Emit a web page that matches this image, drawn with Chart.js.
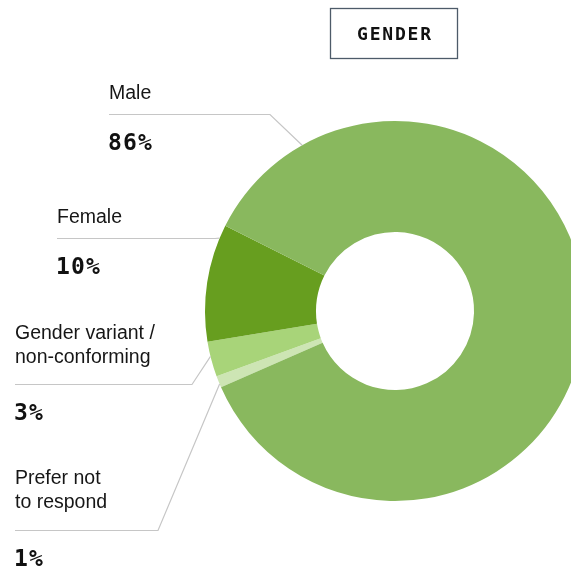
<!DOCTYPE html>
<html>
<head>
<meta charset="utf-8">
<title>Gender</title>
<script src="https://cdn.jsdelivr.net/npm/chart.js@4.4.1/dist/chart.umd.min.js"></script>
<style>
    html, body { margin: 0; padding: 0; background: #ffffff; overflow: hidden; }
    #wrap { position: relative; width: 600px; height: 570px; }
</style>
</head>
<body>
<div id="wrap"><canvas id="genderChart" width="600" height="570"></canvas></div>
<script>
// Datos de la encuesta
const categories = ['Male', 'Female', 'Gender variant / non-conforming', 'Prefer not to respond'];
const labelLines = [['Male'], ['Female'], ['Gender variant /', 'non-conforming'], ['Prefer not', 'to respond']];
const shares = [86, 10, 3, 1];
const sliceColors = ['#89b85e', '#679e1f', '#a8d479', '#cde5b4'];
const chartTitle = 'GENDER';

// Etiquetas laterales: x del texto, base del texto, y de la guía, codo, punto sobre el arco
const callouts = [
    { x: 109, textY: 99, lineY: 114, kneeX: 270, along: 0.11 },
    { x: 57, textY: 223, lineY: 238, kneeX: 215, along: 0.885 },
    { x: 15, textY: 363, lineY: 384, kneeX: 192, along: 0.58 },
    { x: 15, textY: 508, lineY: 530, kneeX: 158, along: 0.3 }
];

// El gráfico se dibuja en sentido horario desde "Prefer not to respond"
const order = [3, 2, 1, 0];

const calloutPlugin = {
    id: 'callouts',
    afterDraw(chart) {
        const ctx = chart.ctx;
        const meta = chart.getDatasetMeta(0);
        ctx.save();

        // Caja del título
        ctx.strokeStyle = '#4d5b69';
        ctx.lineWidth = 1.3;
        ctx.strokeRect(330.5, 8.5, 127, 50);
        ctx.fillStyle = '#111111';
        ctx.font = 'bold 18px "DejaVu Sans Mono"';
        ctx.letterSpacing = '1.8px';
        ctx.textAlign = 'left';
        ctx.textBaseline = 'alphabetic';
        const tw = ctx.measureText(chartTitle).width - 1.8;
        ctx.fillText(chartTitle, 394 - tw / 2, 40);

        categories.forEach(function(name, k) {
            const c = callouts[k];
            const arc = meta.data[order.indexOf(k)];
            const a = arc.startAngle + c.along * (arc.endAngle - arc.startAngle);
            const ex = arc.x + Math.cos(a) * arc.outerRadius;
            const ey = arc.y + Math.sin(a) * arc.outerRadius;

            // Línea guía
            ctx.strokeStyle = '#c6c6c6';
            ctx.lineWidth = 1.2;
            ctx.beginPath();
            ctx.moveTo(c.x, c.lineY + 0.5);
            ctx.lineTo(c.kneeX, c.lineY + 0.5);
            ctx.lineTo(ex, ey);
            ctx.stroke();

            // Nombre
            ctx.fillStyle = '#161616';
            ctx.letterSpacing = '0px';
            ctx.font = '19.5px "Liberation Sans"';
            const lines = labelLines[k];
            lines.forEach(function(line, j) {
                ctx.fillText(line, c.x, c.textY - (lines.length - 1 - j) * 24);
            });

            // Porcentaje
            ctx.font = 'bold 23px "DejaVu Sans Mono"';
            ctx.letterSpacing = '1.2px';
            ctx.fillStyle = '#111111';
            ctx.fillText(shares[k] + '%', c.x - 1, c.lineY + 36);
        });
        ctx.restore();
    }
};

new Chart(document.getElementById('genderChart').getContext('2d'), {
    type: 'doughnut',
    data: {
        labels: order.map(function(i) { return categories[i]; }),
        datasets: [{
            data: order.map(function(i) { return shares[i]; }),
            backgroundColor: order.map(function(i) { return sliceColors[i]; }),
            borderWidth: 0,
            hoverOffset: 0,
            offset: 0
        }]
    },
    options: {
        responsive: false,
        animation: false,
        rotation: 246.3,
        cutout: '41.6%',
        layout: { padding: { left: 205, right: 15, top: 121, bottom: 69 } },
        plugins: {
            legend: { display: false },
            tooltip: { enabled: false }
        }
    },
    plugins: [calloutPlugin]
});
</script>
</body>
</html>
